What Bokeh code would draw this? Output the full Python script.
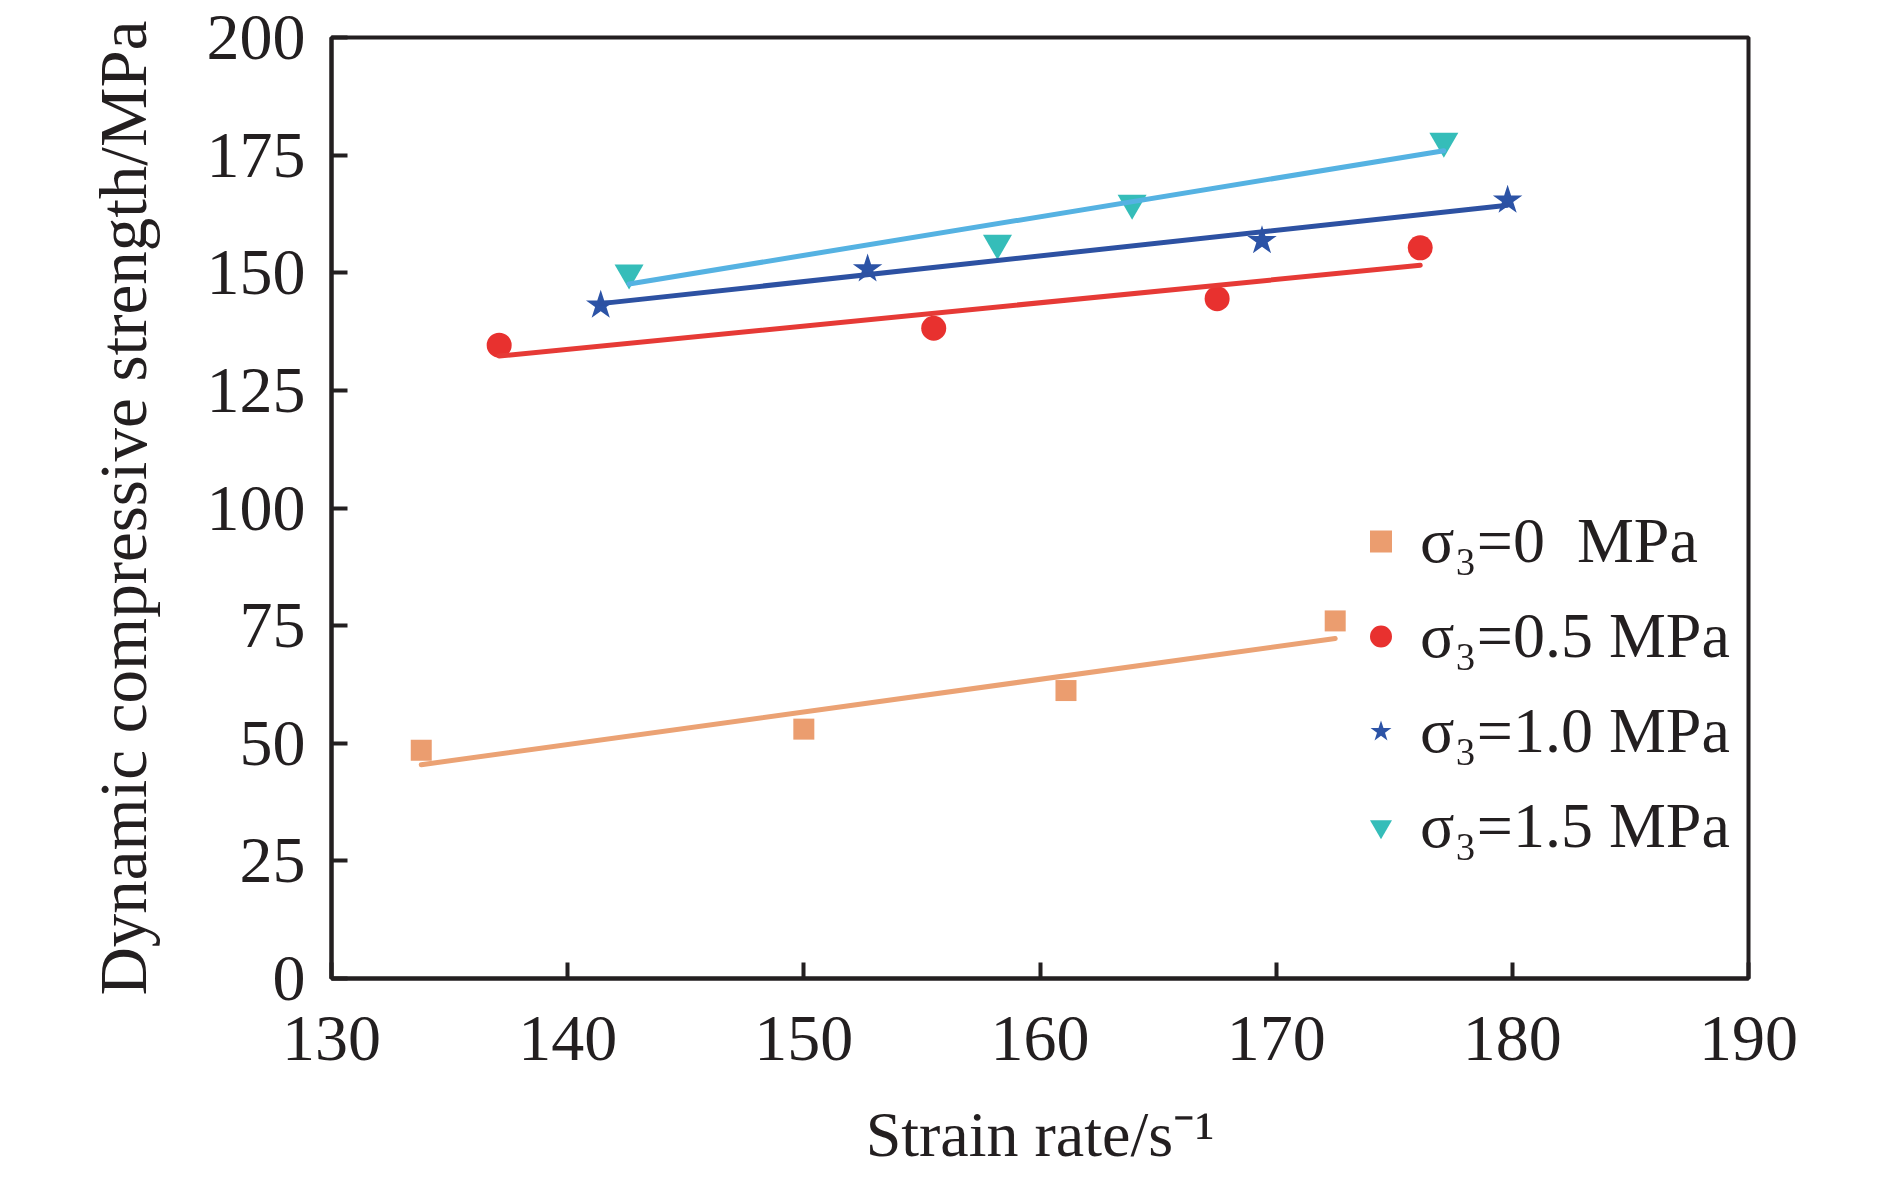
import numpy as np
from bokeh.plotting import figure
from bokeh.models import FixedTicker, Legend, LegendItem, Range1d
from bokeh.embed import file_html
from bokeh.resources import INLINE

# ---- data ----
x_ticks = [130, 140, 150, 160, 170, 180, 190]
y_ticks = [0, 25, 50, 75, 100, 125, 150, 175, 200]

series_labels = ["σ₃=0  MPa", "σ₃=0.5 MPa", "σ₃=1.0 MPa", "σ₃=1.5 MPa"]

rate_00 = [133.8, 150.0, 161.1, 172.5]
strength_00 = [48.5, 53.0, 61.2, 76.0]

rate_05 = [137.1, 155.5, 167.5, 176.1]
strength_05 = [134.6, 138.2, 144.5, 155.3]

rate_10 = [141.4, 152.7, 169.4, 179.8]
strength_10 = [143.1, 150.8, 156.8, 165.4]

rate_15 = [142.6, 158.2, 163.9, 177.1]
strength_15 = [150.0, 156.3, 164.8, 178.0]

FONT = "Liberation Serif"
INK = "#231F20"

p = figure(
    frame_width=1417, frame_height=941,
    min_border_left=331, min_border_right=122, min_border_top=37, min_border_bottom=150,
    x_range=Range1d(130, 190), y_range=Range1d(0, 200),
    output_backend="svg", toolbar_location=None,
    background_fill_color="white", border_fill_color="white",
)
p.grid.visible = False
p.outline_line_color = INK
p.outline_line_width = 4

styles = [
    dict(marker="square", size=21, color="#EB9D6F", line="#EBA274"),
    dict(marker="circle", size=25, color="#E8312F", line="#E63A36"),
    dict(marker="star", size=31, color="#2C53A6", line="#2D51A2"),
    dict(marker="inverted_triangle", size=29, color="#35BDB9", line="#55B2E2"),
]
data = [(rate_00, strength_00), (rate_05, strength_05), (rate_10, strength_10), (rate_15, strength_15)]

items = []
for (xs, ys), st, lab in zip(data, styles, series_labels):
    r = p.scatter(xs, ys, marker=st["marker"], size=st["size"], fill_color=st["color"],
                  line_color=None)
    items.append(LegendItem(label=lab, renderers=[r]))

# least-squares trend line of each series, drawn over its markers
for (xs, ys), st in zip(data, styles):
    k, b = np.polyfit(np.array(xs), np.array(ys), 1)
    fx = np.array([min(xs), max(xs)])
    p.line(fx, k * fx + b, line_color=st["line"], line_width=5, line_cap="round")

for ax in (p.xaxis[0], p.yaxis[0]):
    ax.axis_line_color = INK
    ax.axis_line_width = 4
    ax.major_tick_line_color = INK
    ax.major_tick_line_width = 4
    ax.major_tick_in = 16
    ax.major_tick_out = 0
    ax.minor_tick_line_color = None
    ax.major_label_text_font = FONT
    ax.major_label_text_font_size = "66px"
    ax.major_label_text_color = INK
    ax.axis_label_text_font = FONT
    ax.axis_label_text_font_style = "normal"
    ax.axis_label_text_color = INK

p.xaxis[0].ticker = FixedTicker(ticks=x_ticks)
p.yaxis[0].ticker = FixedTicker(ticks=y_ticks)
p.xaxis[0].major_label_standoff = 38
p.yaxis[0].major_label_standoff = 26
p.xaxis[0].axis_label = "Strain rate/s⁻¹"
p.xaxis[0].axis_label_text_font_size = "64px"
p.xaxis[0].axis_label_standoff = 36
p.yaxis[0].axis_label = "Dynamic compressive strength/MPa"
p.yaxis[0].axis_label_text_font_size = "67px"
p.yaxis[0].axis_label_standoff = 44

legend = Legend(
    items=items,
    location=(1022, 115),
    glyph_width=55, glyph_height=74, label_height=74,
    spacing=21, padding=0, margin=0, label_standoff=12,
    label_text_font=FONT, label_text_font_size="64px", label_text_color=INK,
    border_line_color=None, background_fill_alpha=0,
)
p.add_layout(legend, "center")

open("out.html", "w").write(file_html(p, INLINE))
